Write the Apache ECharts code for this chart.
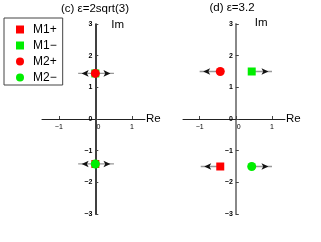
<!DOCTYPE html>
<html><head><meta charset="utf-8">
<script src="https://cdn.jsdelivr.net/npm/echarts@6/dist/echarts.min.js"></script>
<style>html,body{margin:0;padding:0;background:#fff}#c{width:321px;height:242px}</style>
</head><body><div id="c"></div>
<script>
const panelTitles = ['(c) \u03b5=2sqrt(3)', '(d) \u03b5=3.2'];
const seriesNames = ['M1+', 'M1\u2212', 'M2+', 'M2\u2212'];
const xTicks = [-1, 0, 1];
const yTicks = [-3, -2, -1, 0, 1, 2, 3];
// panel (c)
const cM1p = [[0, -1.42]];
const cM1m = [[0, 1.44]];
const cM2p = [[0, 1.44]];
const cM2m = [[0, -1.42]];
const cShafts = [[[-0.47, 1.44], [0.51, 1.44]], [[-0.47, -1.42], [0.51, -1.42]]];
const cHeadsLeft = [[-0.47, 1.44], [-0.47, -1.42]];
const cHeadsRight = [[0.51, 1.44], [0.51, -1.42]];
// panel (d)
const dM1p = [[-0.43, -1.5]];
const dM1m = [[0.44, 1.5]];
const dM2p = [[-0.43, 1.5]];
const dM2m = [[0.44, -1.5]];
const dShafts = [[[-0.43, 1.5], [-1.0, 1.5]], [[0.44, 1.5], [1.0, 1.5]], [[-0.43, -1.5], [-0.97, -1.5]], [[0.44, -1.5], [1.0, -1.5]]];
const dHeadsLeft = [[-1.0, 1.5], [-0.97, -1.5]];
const dHeadsRight = [[1.0, 1.5], [1.0, -1.5]];

const RED = '#ff0000', GREEN = '#00ee00';
const FONT = 'Liberation Sans';
const minus = v => String(v).replace('-', '\u2212');

function shaftData(shafts) {
  const out = [];
  shafts.forEach((s, i) => { if (i) out.push([null, null]); out.push(s[0], s[1]); });
  return out;
}

const XMIN = -1.46, XMAX = 1.36, YMIN = -3, YMAX = 3;
const grids = [
  {left: 42, width: 103, top: 24, height: 190},
  {left: 183, width: 102, top: 24, height: 190}
];
const yColors = [['#000', 1.5], ['#888', 2]];

// offsets that place each axis on the other axis' zero
const yOff = g => -((0 - XMIN) / (XMAX - XMIN) * g.width);
const xOff = g => -((0 - YMIN) / (YMAX - YMIN) * g.height);

const xAxes = grids.map((g, i) => ({
  gridIndex: i, type: 'value', min: XMIN, max: XMAX, position: 'bottom', offset: xOff(g),
  name: 'Re', nameLocation: 'end', nameGap: 1,
  nameTextStyle: {fontFamily: FONT, fontSize: 11.5, color: '#000'},
  axisLine: {onZero: false, lineStyle: {color: '#222', width: 1}},
  axisTick: {inside: true, length: 3, customValues: xTicks, lineStyle: {color: '#444'}},
  splitLine: {show: false},
  axisLabel: {customValues: xTicks, margin: 5, fontFamily: FONT, fontSize: 7, color: '#000',
    formatter: v => v === 0 ? '{z|0}' : minus(v), rich: {z: {padding: [0, 0, 0, 6], fontSize: 7, fontFamily: FONT}}}
}));
const yAxes = grids.map((g, i) => ({
  gridIndex: i, type: 'value', min: YMIN, max: YMAX, interval: 1, position: 'left', offset: yOff(g),
  name: 'Im', nameLocation: 'end', nameGap: [-7, -5][i],
  nameTextStyle: {fontFamily: FONT, fontSize: 11.5, color: '#000', align: 'left', padding: [0, 0, 0, [16, 19][i]]},
  axisLine: {onZero: false, lineStyle: {color: yColors[i][0], width: yColors[i][1]}},
  axisTick: {inside: true, length: 3, lineStyle: {color: '#444'}},
  splitLine: {show: false},
  axisLabel: {margin: 3, fontFamily: FONT, fontSize: 7, color: '#000', fontWeight: 'bold', formatter: v => minus(v)}
}));

const panels = [
  {pts: [cM1p, cM1m, cM2p, cM2m], shafts: cShafts, hl: cHeadsLeft, hr: cHeadsRight},
  {pts: [dM1p, dM1m, dM2p, dM2m], shafts: dShafts, hl: dHeadsLeft, hr: dHeadsRight}
];
const syms = ['rect', 'rect', 'circle', 'circle'];
const cols = [RED, GREEN, RED, GREEN];
const sizes = [8, 8, 9, 9];

const series = [];
panels.forEach((p, i) => {
  series.push({type: 'line', xAxisIndex: i, yAxisIndex: i, data: shaftData(p.shafts), showSymbol: false,
    connectNulls: false, silent: true, lineStyle: {color: '#999', width: 1.3}, z: 1});
  series.push({type: 'scatter', xAxisIndex: i, yAxisIndex: i, data: p.hl, symbol: 'arrow', symbolSize: [5, 7],
    symbolRotate: 90, symbolOffset: [3.5, 0], itemStyle: {color: '#111', opacity: 1}, silent: true, z: 2});
  series.push({type: 'scatter', xAxisIndex: i, yAxisIndex: i, data: p.hr, symbol: 'arrow', symbolSize: [5, 7],
    symbolRotate: -90, symbolOffset: [-3.5, 0], itemStyle: {color: '#111', opacity: 1}, silent: true, z: 2});
  p.pts.forEach((d, k) => {
    series.push({type: 'scatter', name: seriesNames[k], xAxisIndex: i, yAxisIndex: i, data: d,
      symbol: syms[k], symbolSize: sizes[k], itemStyle: {color: cols[k], opacity: 1}, z: 3 + k});
  });
});

const chart = echarts.init(document.getElementById('c'), null, {renderer: 'canvas'});
chart.setOption({
  animation: false,
  backgroundColor: '#fff',
  grid: grids,
  xAxis: xAxes,
  yAxis: yAxes,
  legend: {
    orient: 'vertical', left: 4, top: 18, padding: [5, 6, 1, 12], itemGap: 3, itemWidth: 8, itemHeight: 8,
    borderColor: '#444', borderWidth: 1, borderRadius: 0,
    textStyle: {fontFamily: FONT, fontSize: 12, color: '#000', lineHeight: 13, padding: [0, 0, 0, 4]},
    data: seriesNames.map((n, k) => ({name: n, icon: syms[k], itemStyle: {opacity: 1}}))
  },
  graphic: panelTitles.map((t, i) => ({
    type: 'text', x: [95, 232][i], y: [9, 8][i],
    style: {text: t, fontFamily: FONT, fontSize: 11.5, fill: '#000', textAlign: 'center', textVerticalAlign: 'middle'}
  })),
  series: series
});
</script></body></html>
